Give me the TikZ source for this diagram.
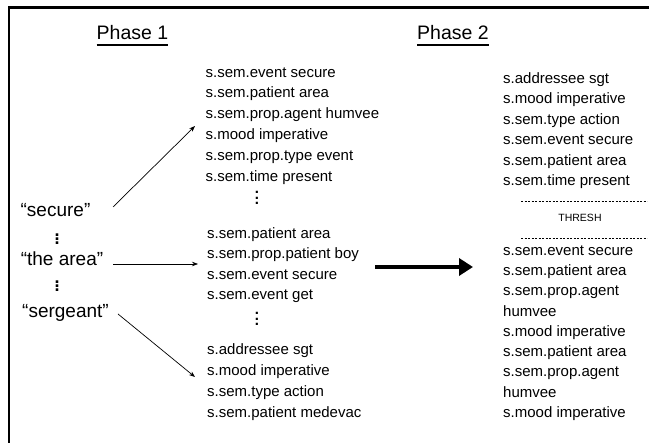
\documentclass[tikz,border=0pt]{standalone}
\usepackage{fontspec}
\setmainfont{Liberation Sans}
\usetikzlibrary{arrows.meta}
\newcommand{\stackdots}[1]{\vbox{\baselineskip#1\lineskiplimit0pt\hbox{.}\hbox{.}\hbox{.}}}

\begin{document}
\begin{tikzpicture}[x=1pt,y=-1pt,
  item/.style={anchor=base west,inner sep=0pt,font=\fontsize{15}{18}\selectfont},
  word/.style={anchor=base,inner sep=0pt,font=\fontsize{19}{22}\selectfont},
  phase/.style={anchor=base,inner sep=0pt,font=\fontsize{19.5}{23}\selectfont},
  dotsbig/.style={inner sep=0pt,font=\fontsize{18}{20}\selectfont\bfseries},
  dotssmall/.style={inner sep=0pt,font=\fontsize{15}{18}\selectfont\bfseries},
  thin arrow/.style={-{Stealth[length=6pt,width=4.5pt]},line width=0.7pt},
  fat arrow/.style={-{Triangle[length=14pt,width=17pt]},line width=4.3pt},
  cutline/.style={dash pattern=on 2.2pt off 1.3pt,line width=0.6pt}]
\useasboundingbox (0,0) rectangle (649,443);
\clip (0,0) rectangle (649,443);
%%% frame
\draw[line width=2.3pt] (9.2,7.5) rectangle (700,500);
%%% headers
\node[phase] (ph1) at (132.5,40) {Phase 1};
\node[phase] (ph2) at (453,40) {Phase 2};
\draw[line width=1.6pt] ([yshift=-5pt]ph1.base west) -- ([yshift=-5pt]ph1.base east);
\draw[line width=1.6pt] ([yshift=-5pt]ph2.base west) -- ([yshift=-5pt]ph2.base east);
%%% words of the utterance
\node[word] (wSecure) at (55.5,216.7) {“secure”};
\node[dotsbig] (dL1) at (57,239.5) {\stackdots{4pt}};
\node[word] (wArea) at (62,266) {“the area”};
\node[dotsbig] (dL2) at (57,286.5) {\stackdots{4pt}};
\node[word] (wSerg) at (65.5,318) {“sergeant”};
%%% phase 1 lists
\foreach \t [count=\i] in {s.sem.event secure,s.sem.patient area,s.sem.prop.agent humvee,
    s.mood imperative,s.sem.prop.type event,s.sem.time present}
  \node[item] (a\i) at (205.5,{77.2+20.8*(\i-1)}) {\t};
\node[dotssmall] (dA) at (257,198) {\stackdots{5.5pt}};
\foreach \t [count=\i] in {s.sem.patient area,s.sem.prop.patient boy,s.sem.event secure,
    s.sem.event get}
  \node[item] (b\i) at (207,{238.5+20.3*(\i-1)}) {\t};
\node[dotssmall] (dB) at (257,319) {\stackdots{5.5pt}};
\foreach \t [count=\i] in {s.addressee sgt,s.mood imperative,s.sem.type action,
    s.sem.patient medevac}
  \node[item] (c\i) at (207,{354.5+21*(\i-1)}) {\t};
%%% phase 2 list
\foreach \t [count=\i] in {s.addressee sgt,s.mood imperative,s.sem.type action,
    s.sem.event secure,s.sem.patient area,s.sem.time present}
  \node[item] (d\i) at (503,{83.5+20.5*(\i-1)}) {\t};
\coordinate (cutL1) at (521,201);
\coordinate (cutR1) at (647,201);
\coordinate (cutL2) at (521,238);
\coordinate (cutR2) at (647,238);
\draw[cutline] (cutL1) -- (cutR1);
\node[inner sep=0pt,font=\fontsize{10.5}{12}\selectfont] (thresh) at (580,218) {THRESH};
\draw[cutline] (cutL2) -- (cutR2);
\foreach \t [count=\i] in {s.sem.event secure,s.sem.patient area,s.sem.prop.agent,humvee,
    s.mood imperative,s.sem.patient area,s.sem.prop.agent,humvee,s.mood imperative}
  \node[item] (e\i) at (503,{255.5+20.25*(\i-1)}) {\t};
%%% arrows
\coordinate (secOut) at (113,207);
\coordinate (secIn) at (195,126);
\coordinate (areaOut) at (113,264);
\coordinate (areaIn) at (198,264);
\coordinate (sergOut) at (118,314);
\coordinate (sergIn) at (195,377);
\coordinate (fatOut) at (375,267);
\coordinate (fatIn) at (473,267);
\draw[thin arrow] (secOut) -- (secIn);
\draw[thin arrow] (areaOut) -- (areaIn);
\draw[thin arrow] (sergOut) -- (sergIn);
\draw[fat arrow] (fatOut) -- (fatIn);
\end{tikzpicture}
\end{document}
